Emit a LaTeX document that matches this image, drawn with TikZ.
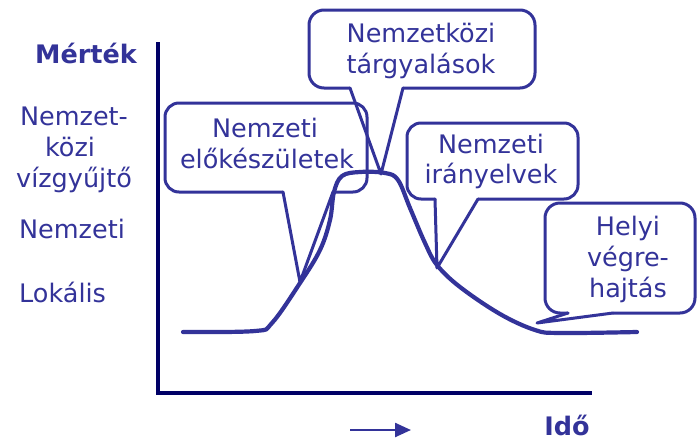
\documentclass[tikz,border=0pt]{standalone}
\usepackage{fontspec}
\setmainfont{DejaVu Sans}
\usetikzlibrary{arrows.meta}
\definecolor{ink}{RGB}{51,51,153}
\definecolor{axisc}{RGB}{0,0,102}
\begin{document}
\begin{tikzpicture}[x=1pt,y=-1pt,
 lbl/.style={font=\fontsize{25.5}{31}\selectfont, text=ink, inner sep=0pt, anchor=base},
 boldlbl/.style={lbl, font=\fontsize{25.5}{31}\selectfont\bfseries},
 callout/.style={draw=ink, line width=3pt, line join=round, line cap=round},
 curve/.style={draw=ink, line width=4.2pt, line cap=round, line join=round},
 axisline/.style={draw=axisc, line width=4.2pt}]
\useasboundingbox (0,0) rectangle (697,440);

% axes
\coordinate (ytop) at (158,42);
\coordinate (orig) at (158,393);
\coordinate (xend) at (592,393);
\draw[axisline] (ytop) -- (orig) -- (xend);

% curve
\draw[curve] plot[smooth, tension=0.6] coordinates {
 (183,332) (255,331) (272,323) (300,283) (320,250) (330,220) (334,192)
 (342,176) (360,172) (385,173) (398,180) (410,208) (425,243) (437,265)
 (460,287) (500,314) (535,330) (560,333) (637,332)};

% callout 1: Nemzeti elokeszuletek
\coordinate (p1l) at (283,192); \coordinate (p1t) at (300,282); \coordinate (p1r) at (333,192);
\draw[callout, rounded corners=14pt] (p1r) -- (367,192) -- (367,103) -- (165,103) -- (165,192) -- (p1l);
\draw[callout] (p1l) -- (p1t) -- (p1r);
% callout 2: Nemzetkozi targyalasok
\coordinate (p2l) at (350,88); \coordinate (p2t) at (381,174); \coordinate (p2r) at (403,88);
\draw[callout, rounded corners=15pt] (p2r) -- (535,88) -- (535,10) -- (309,10) -- (309,88) -- (p2l);
\draw[callout] (p2l) -- (p2t) -- (p2r);
% callout 3: Nemzeti iranyelvek
\coordinate (p3l) at (435,199); \coordinate (p3t) at (437,268); \coordinate (p3r) at (478,199);
\draw[callout, rounded corners=14pt] (p3r) -- (578,199) -- (578,123) -- (407,123) -- (407,199) -- (p3l);
\draw[callout] (p3l) -- (p3t) -- (p3r);
% callout 4: Helyi vegrehajtas
\coordinate (p4l) at (568,313); \coordinate (p4t) at (537,323); \coordinate (p4r) at (613,313);
\draw[callout, rounded corners=15pt] (p4r) -- (695,313) -- (695,203) -- (545,203) -- (545,313) -- (p4l);
\draw[callout] (p4l) -- (p4t) -- (p4r);

% callout texts
\node[lbl] (t1a) at (265,137) {Nemzeti};
\node[lbl] (t1b) at (267,168) {előkészületek};
\node[lbl] (t2a) at (421,42) {Nemzetközi};
\node[lbl] (t2b) at (421,73) {tárgyalások};
\node[lbl] (t3a) at (491,153) {Nemzeti};
\node[lbl] (t3b) at (491,183) {irányelvek};
\node[lbl] (t4a) at (628,235) {Helyi};
\node[lbl] (t4b) at (628,266) {végre-};
\node[lbl] (t4c) at (628,297) {hajtás};

% axis labels
\node[boldlbl] (mertek) at (86,63) {Mérték};
\node[lbl] (l1) at (74,125) {Nemzet-};
\node[lbl] (l2) at (70,156) {közi};
\node[lbl] (l3) at (74,187) {vízgyűjtő};
\node[lbl] (l4) at (72,238) {Nemzeti};
\node[lbl, anchor=base west] (l5) at (19,302) {Lokális};
\node[boldlbl] (ido) at (567,435) {Idő};

% time arrow
\coordinate (a1) at (350,430);
\coordinate (a2) at (411,430);
\draw[ink, line width=2.4pt, -{Triangle[length=16pt,width=14pt]}] (a1) -- (a2);
\end{tikzpicture}
\end{document}
